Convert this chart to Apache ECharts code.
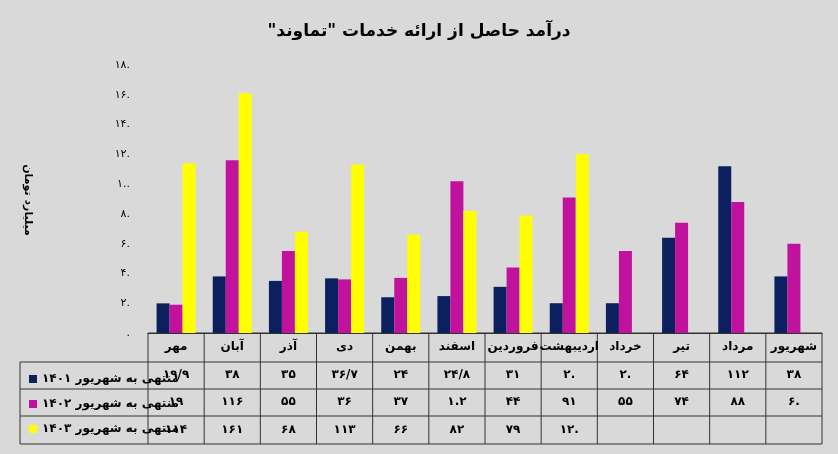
<!DOCTYPE html>
<html><head><meta charset="utf-8">
<script src="https://cdn.jsdelivr.net/npm/echarts@6/dist/echarts.min.js"></script>
<style>html,body{margin:0;padding:0;background:#d9d9d9}#c{width:838px;height:454px}</style>
</head><body><div id="c"></div>
<script>
const categories = ['مهر','آبان','آذر','دی','بهمن','اسفند','فروردین','اردیبهشت','خرداد','تیر','مرداد','شهریور'];
const seriesNames = ['منتهی به شهریور ۱۴۰۱','منتهی به شهریور ۱۴۰۲','منتهی به شهریور ۱۴۰۳'];
const s1401 = [19.9,38,35,36.7,24,24.8,31,20,20,64,112,38];
const s1402 = [19,116,55,36,37,102,44,91,55,74,88,60];
const s1403 = [114,161,68,113,66,82,79,120,null,null,null,null];
const yTicks = [0,20,40,60,80,100,120,140,160,180];
const colors = ['#0c1f5e','#c1129e','#ffff00'];

const rtl = s => '\u202B' + s + '\u202C';
const faTick = v => String(v).replace(/\d/g, d => '۰۱۲۳۴۵۶۷۸۹'[d]).replace(/۰/g,'.');
const faCell = v => v == null ? '' : String(v).replace(/\./g,'/').replace(/\d/g, d => '۰۱۲۳۴۵۶۷۸۹'[d]).replace(/۰(?!\/)/g,'.');
const data = [s1401, s1402, s1403];

const L = 148, R = 822, T = 65, B = 333;
const colW = (R - L) / categories.length;
const rows = [333, 362, 389, 416, 444];
const lines = [];
const ln = (x1,y1,x2,y2) => lines.push({type:'line',shape:{x1,y1,x2,y2},style:{stroke:'#333',lineWidth:1},silent:true});
ln(L, rows[0], R, rows[0]);
for (let i = 1; i < rows.length; i++) ln(20, rows[i], R, rows[i]);
ln(20, rows[1], 20, rows[4]);
for (let i = 0; i <= categories.length; i++) ln(L + i*colW, rows[0], L + i*colW, rows[4]);

const fontB = {fontFamily:'DejaVu Sans', fontWeight:'bold', color:'#000'};
const xAxes = [0,1,2,3].map(k => ({
  type:'category', data: categories, gridIndex:0, position:'bottom',
  axisLine:{show:k===0, lineStyle:{color:'#333'}}, axisTick:{show:false},
  axisLabel:{show:true, interval:0, margin:[14,42,69,97][k], verticalAlign:'middle',
    ...fontB, fontSize: 12, fontWeight: 'bold',
    formatter:(v, i) => k===0 ? rtl(v) : faCell(data[k-1][i])}
}));

const chart = echarts.init(document.getElementById('c'));
chart.setOption({
  backgroundColor:'#d9d9d9',
  animation:false,
  title:{text: rtl('درآمد حاصل از ارائه خدمات "تماوند"'), left:'center', top:18,
    textStyle:{...fontB, fontSize:17}},
  grid:{left:L, right:838-R, top:T, bottom:454-B},
  legend:{orient:'vertical', left:24, top:368, itemWidth:8, itemHeight:8, itemGap:13,
    icon:'rect', textStyle:{...fontB, fontSize:12}, data: seriesNames,
    formatter: n => rtl(n)},
  xAxis: xAxes,
  yAxis:{type:'value', min:0, max:180, interval:20,
    axisLine:{show:false}, axisTick:{show:false}, splitLine:{show:false},
    axisLabel:{...fontB, fontWeight:'normal', fontSize:11, margin:18, formatter: v => faTick(v)}},
  graphic:[...lines,
    {type:'text', x:28, y:200, rotation:-Math.PI/2,
     style:{text: rtl('میلیارد تومان'), fill:'#000', font:'bold 11px DejaVu Sans', textAlign:'center', textVerticalAlign:'middle'}}],
  series: data.map((d,i) => ({
    name: seriesNames[i], type:'bar', data:d, barWidth:13, barGap:'0%',
    itemStyle:{color:colors[i]}
  }))
});
</script></body></html>
